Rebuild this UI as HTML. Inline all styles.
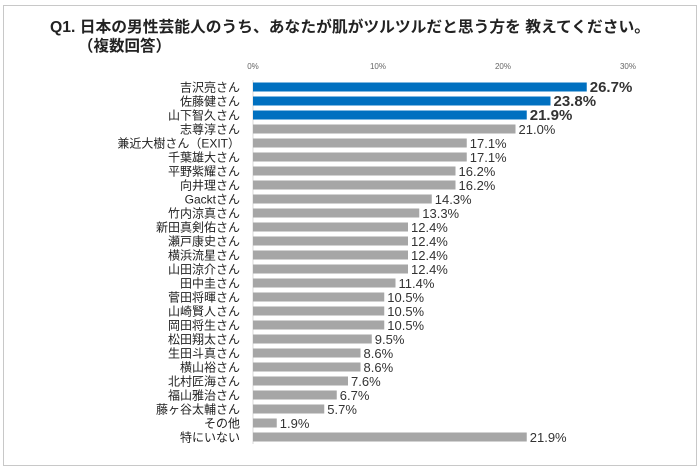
<!DOCTYPE html>
<html><head><meta charset="utf-8"><style>
body{margin:0;background:#fff;}
svg text{font-family:"Liberation Sans","Noto Sans CJK JP",sans-serif;}
</style></head><body>
<svg width="700" height="470" xmlns="http://www.w3.org/2000/svg">
<rect x="3.5" y="5.5" width="693" height="460" fill="#fff" stroke="#c8c8c8" stroke-width="1"/>
<text x="50" y="32" font-size="15.5" font-weight="bold" fill="#222" textLength="600" lengthAdjust="spacingAndGlyphs">Q1. 日本の男性芸能人のうち、あなたが肌がツルツルだと思う方を 教えてください。</text>
<text x="78" y="51" font-size="15.5" font-weight="bold" fill="#222">（複数回答）</text>
<g id="ticks"></g>
<line x1="253" y1="80" x2="253" y2="444" stroke="#d9d9d9"/>
<g id="bars"></g>
</svg>
<script>
const categories=["吉沢亮さん","佐藤健さん","山下智久さん","志尊淳さん","兼近大樹さん（EXIT）","千葉雄大さん","平野紫耀さん","向井理さん","Gacktさん","竹内涼真さん","新田真剣佑さん","瀬戸康史さん","横浜流星さん","山田涼介さん","田中圭さん","菅田将暉さん","山崎賢人さん","岡田将生さん","松田翔太さん","生田斗真さん","横山裕さん","北村匠海さん","福山雅治さん","藤ヶ谷太輔さん","その他","特にいない"];
const values=[26.7,23.8,21.9,21.0,17.1,17.1,16.2,16.2,14.3,13.3,12.4,12.4,12.4,12.4,11.4,10.5,10.5,10.5,9.5,8.6,8.6,7.6,6.7,5.7,1.9,21.9];
const tickValues=[0,10,20,30];
const tickLabels=["0%","10%","20%","30%"];
const NS="http://www.w3.org/2000/svg";
const x=v=>253+v*12.5;
const y=i=>87+i*(350/25);
function mk(t,a,p){const e=document.createElementNS(NS,t);for(const k in a)e.setAttribute(k,a[k]);p.appendChild(e);return e;}
const tg=document.getElementById('ticks');
tickValues.forEach((v,i)=>{const t=mk('text',{x:x(v),y:69,'font-size':8,'text-anchor':'middle',fill:'#666'},tg);t.textContent=tickLabels[i];

});
const bg=document.getElementById('bars');
categories.forEach((c,i)=>{
 const cy=y(i);const top=i<3;
 const r=mk('rect',{x:253,y:cy-4.5,width:x(values[i])-253,height:9,fill:top?'#0070c0':'#a6a6a6'},bg);
 
 
 const l=mk('text',{x:240,y:cy+4.5,'font-size':12,'text-anchor':'end',fill:'#222'},bg);l.textContent=c;
 
 
 const v=mk('text',{x:x(values[i])+3,y:cy+5,'font-size':top?15:13,'font-weight':top?'bold':'normal',fill:'#333'},bg);v.textContent=values[i].toFixed(1)+'%';
 
 
});
</script>
</body></html>
